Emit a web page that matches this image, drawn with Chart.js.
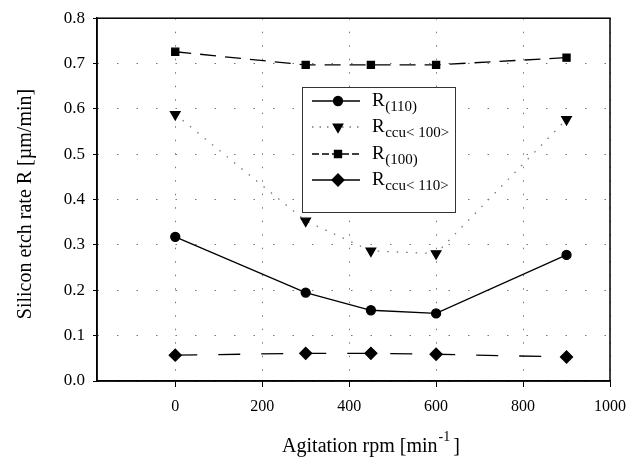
<!DOCTYPE html>
<html>
<head>
<meta charset="utf-8">
<script src="https://cdn.jsdelivr.net/npm/chart.js@4"></script>
<style>
  html, body { margin: 0; padding: 0; background: #fff; }
  #wrap { position: relative; width: 640px; height: 459px; }
</style>
</head>
<body>
<div id="wrap"><canvas id="c" width="640" height="459"></canvas></div>
<script>
// ---- data ----
const rpm = [0, 300, 450, 600, 900];
const r110 = [0.318, 0.195, 0.156, 0.149, 0.278];
const rccu100 = [0.588, 0.353, 0.287, 0.281, 0.577];
const r100 = [0.726, 0.697, 0.697, 0.697, 0.713];
const rccu110 = [0.057, 0.061, 0.061, 0.059, 0.053];
const xTicks = [0, 200, 400, 600, 800, 1000];
const yTicks = [0, 0.1, 0.2, 0.3, 0.4, 0.5, 0.6, 0.7, 0.8];
const seriesNames = [
  { main: 'R', sub: '(110)' },
  { main: 'R', sub: 'ccu< 100>' },
  { main: 'R', sub: '(100)' },
  { main: 'R', sub: 'ccu< 110>' }
];

const FONT = '"Liberation Serif", "Times New Roman", serif';

function pts(ys) { return rpm.map((x, i) => ({ x: x, y: ys[i] })); }

const datasets = [
  { label: 'R(110)', data: pts(r110), borderColor: '#000', backgroundColor: '#000',
    borderWidth: 1.3, pointStyle: 'circle', pointRadius: 4.5, borderDash: [] },
  { label: 'Rccu<100>', data: pts(rccu100), borderColor: '#777', backgroundColor: '#000',
    borderWidth: 1.3, pointStyle: 'triangle', pointRotation: 180, pointRadius: 5.5, pointBorderColor: '#000',
    borderDash: [1.5, 8] },
  { label: 'R(100)', data: pts(r100), borderColor: '#000', backgroundColor: '#000',
    borderWidth: 1.3, pointStyle: 'rect', pointRadius: 5, borderDash: [16, 9] },
  { label: 'Rccu<110>', data: pts(rccu110), borderColor: '#000', backgroundColor: '#000',
    borderWidth: 1.3, pointStyle: 'rectRot', pointRadius: 6, borderDash: [22, 21] }
];

const framePlugin = {
  id: 'frame',
  afterDraw(chart) {
    const ctx = chart.ctx, a = chart.chartArea;
    ctx.save();
    // frame
    ctx.strokeStyle = '#000';
    ctx.lineWidth = 1.5;
    ctx.setLineDash([]);
    ctx.strokeRect(a.left, a.top, a.right - a.left, a.bottom - a.top);

    // legend
    const L = 302, T = 87, R = 455, B = 212;
    ctx.fillStyle = '#fff';
    ctx.fillRect(L, T, R - L, B - T);
    ctx.strokeStyle = '#333';
    ctx.lineWidth = 1;
    ctx.strokeRect(L + 0.5, T + 0.5, R - L, B - T);
    const rows = [101, 127, 154, 180];
    const legendDash = [[], [1.5, 6], [7, 3], []];
    datasets.forEach((ds, i) => {
      const y = rows[i];
      ctx.save();
      ctx.strokeStyle = ds.borderColor;
      ctx.lineWidth = ds.borderWidth;
      ctx.setLineDash(legendDash[i]);
      ctx.beginPath();
      ctx.moveTo(312, y);
      ctx.lineTo(360, y);
      ctx.stroke();
      ctx.setLineDash([]);
      ctx.fillStyle = '#000';
      ctx.strokeStyle = '#000';
      Chart.helpers.drawPoint(ctx, {
        pointStyle: ds.pointStyle, radius: ds.pointRadius, rotation: ds.pointRotation || 0, borderWidth: 1
      }, 338, y);
      ctx.restore();
      ctx.fillStyle = '#000';
      ctx.textBaseline = 'alphabetic';
      ctx.textAlign = 'left';
      ctx.font = '19px ' + FONT;
      ctx.fillText(seriesNames[i].main, 372, y + 5);
      const w = ctx.measureText(seriesNames[i].main).width;
      ctx.font = '15px ' + FONT;
      ctx.fillText(seriesNames[i].sub, 372 + w + 0.5, y + 10);
    });

    // axis titles
    ctx.fillStyle = '#000';
    ctx.textAlign = 'left';
    ctx.textBaseline = 'alphabetic';
    const big = '20px ' + FONT, small = '14px ' + FONT;
    const t1 = 'Agitation rpm [min', t2 = '-1', t3 = ']';
    ctx.font = big;
    const w1 = ctx.measureText(t1).width;
    ctx.font = small;
    const w2 = ctx.measureText(t2).width;
    ctx.font = big;
    const w3 = ctx.measureText(t3).width;
    let x0 = 371 - (w1 + w2 + w3 + 4) / 2;
    const by = 452;
    ctx.fillText(t1, x0, by);
    ctx.font = small;
    ctx.fillText(t2, x0 + w1 + 1, by - 11);
    ctx.font = big;
    ctx.fillText(t3, x0 + w1 + w2 + 4, by);

    ctx.translate(31, 204);
    ctx.rotate(-Math.PI / 2);
    ctx.textAlign = 'center';
    ctx.font = big;
    ctx.fillText('Silicon etch rate R [\u00b5m/min]', 0, 0);
    ctx.restore();
  }
};

new Chart(document.getElementById('c'), {
  type: 'line',
  data: { datasets: datasets },
  options: {
    responsive: false,
    animation: false,
    devicePixelRatio: 1,
    layout: { padding: { left: 0, right: 30, top: 16, bottom: 0 } },
    plugins: { legend: { display: false }, tooltip: { enabled: false }, title: { display: false } },
    scales: {
      x: {
        type: 'linear', min: -180, max: 1000,
        afterBuildTicks(scale) { scale.ticks = xTicks.map(v => ({ value: v })); },
        afterFit(scale) { scale.height = 78; },
        ticks: { color: '#000', font: { family: FONT, size: 16 }, padding: 10, maxRotation: 0,
                 callback: v => String(v) },
        grid: { color: '#777', lineWidth: 1, tickLength: 6, tickColor: '#000',
                tickBorderDash: [], tickWidth: 1 },
        border: { display: true, color: '#000', width: 1.5, dash: [1.5, 12] }
      },
      y: {
        type: 'linear', min: 0, max: 0.8,
        afterBuildTicks(scale) { scale.ticks = yTicks.map(v => ({ value: v })); },
        afterFit(scale) { scale.width = 97; },
        ticks: { color: '#000', font: { family: FONT, size: 17 }, padding: 8,
                 callback: v => Number(v).toFixed(1) },
        grid: { color: '#777', lineWidth: 1, tickLength: 4, tickColor: '#000',
                tickBorderDash: [], tickWidth: 1 },
        border: { display: true, color: '#000', width: 1.5, dash: [1.5, 18] }
      }
    }
  },
  plugins: [framePlugin]
});
</script>
</body>
</html>
